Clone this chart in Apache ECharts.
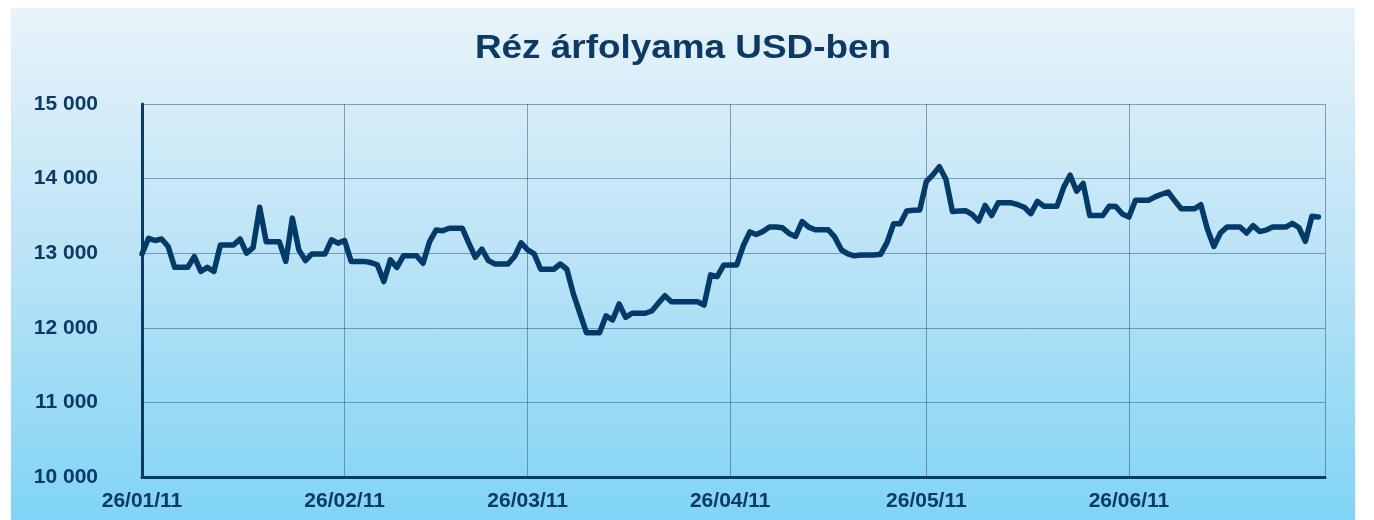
<!DOCTYPE html>
<html>
<head>
<meta charset="utf-8">
<title>Réz árfolyama USD-ben</title>
<script src="https://cdn.jsdelivr.net/npm/echarts@6/dist/echarts.min.js"></script>
<style>
  html, body { margin: 0; padding: 0; background: #fff; }
  #chart { width: 1374px; height: 520px; }
</style>
</head>
<body>
<div id="chart"></div>
<script>
// napi árfolyam (USD/t), a hétvégéken a pénteki érték ismétlődik
const sinceJan26 = [12990, 13200, 13170, 13190, 13090, 12810, 12810, 12810, 12955, 12755,
  12810, 12755, 13110, 13110, 13110, 13190, 13000, 13075, 13615, 13155,
  13155, 13155, 12890, 13470, 13045, 12900, 12990, 12990, 12990, 13180, 13135];
const sinceFeb26 = [13170, 12890, 12890, 12890, 12875, 12845, 12620, 12910, 12810, 12965,
  12965, 12965, 12865, 13155, 13310, 13300, 13335, 13335, 13335, 13135,
  12945, 13055, 12900, 12855, 12855, 12855, 12955, 13140];
const sinceMar26 = [13045, 12990, 12785, 12785, 12785, 12855, 12785, 12455, 12195, 11935,
  11935, 11935, 12160, 12105, 12320, 12140, 12195, 12195, 12195, 12225,
  12330, 12430, 12350, 12350, 12350, 12350, 12350, 12305, 12710, 12685, 12840];
const sinceApr26 = [12843, 12843, 13100, 13285, 13250, 13290, 13350, 13350, 13340, 13265,
  13225, 13425, 13350, 13315, 13315, 13315, 13215, 13045, 12990, 12965,
  12975, 12975, 12975, 12985, 13145, 13395, 13395, 13565, 13575, 13580];
const sinceMay26 = [13960, 14050, 14160, 13990, 13560, 13565, 13570, 13520, 13430, 13640,
  13505, 13675, 13675, 13675, 13650, 13615, 13530, 13695, 13630, 13630,
  13630, 13880, 14045, 13830, 13935, 13505, 13505, 13505, 13630, 13625, 13525];
const sinceJun26 = [13485, 13710, 13710, 13710, 13755, 13790, 13820, 13705, 13595, 13595,
  13595, 13650, 13325, 13090, 13270, 13350, 13350, 13350, 13270, 13370,
  13290, 13310, 13350, 13350, 13350, 13400, 13345, 13160, 13495, 13485];

const prices = [].concat(sinceJan26, sinceFeb26, sinceMar26, sinceApr26, sinceMay26, sinceJun26);

// napok 2011.01.26-tól 2011.07.26-ig
const startDay = Date.UTC(2011, 0, 26);
const dayCount = 182;
const pad = n => (n < 10 ? '0' : '') + n;
const days = [];
for (let i = 0; i < dayCount; i++) {
  const d = new Date(startDay + i * 86400000);
  days.push(pad(d.getUTCDate()) + '/' + pad(d.getUTCMonth() + 1) + '/' + String(d.getUTCFullYear()).slice(2));
}

const yMin = 10000;
const yMax = 15000;
const yStep = 1000;

const chartTitle = 'Réz árfolyama USD-ben';
const navy = '#0b3a66';
const font = 'Liberation Sans, Arial, sans-serif';
const fmtThousands = v => String(v).replace(/\B(?=(\d{3})+(?!\d))/g, ' ');
const isTickDay = (idx, val) => val.slice(0, 3) === '26/';

const chart = echarts.init(document.getElementById('chart'));

const option = {
  animation: false,
  backgroundColor: '#ffffff',
  textStyle: { fontFamily: font },
  graphic: [{
    type: 'rect',
    z: -10,
    silent: true,
    shape: { x: 11, y: 8, width: 1344, height: 512 },
    style: {
      fill: new echarts.graphic.LinearGradient(0, 0, 0, 1, [
        { offset: 0, color: '#e8f3f9' },
        { offset: 0.5, color: '#b9e3f6' },
        { offset: 1, color: '#80d4f5' }
      ])
    }
  }, {
    // a cím az eredetin kissé szélesre nyújtott
    type: 'text',
    silent: true,
    x: 683,
    y: 33,
    scaleX: 1.19,
    scaleY: 1.05,
    style: {
      text: chartTitle,
      align: 'center',
      verticalAlign: 'top',
      fill: navy,
      font: 'bold 31px ' + font
    }
  }],
  grid: {
    left: 142,
    right: 49,
    top: 104,
    bottom: 43,
    containLabel: false
  },
  xAxis: {
    type: 'category',
    data: days,
    boundaryGap: false,
    axisLine: { show: true, onZero: false, lineStyle: { color: navy, width: 3 } },
    axisTick: { show: false },
    axisLabel: {
      interval: (idx, val) => isTickDay(idx, val) && idx < dayCount - 1,
      color: navy,
      fontSize: 21,
      fontWeight: 'bold',
      margin: 14
    },
    splitLine: {
      show: true,
      interval: isTickDay,
      lineStyle: { color: 'rgba(40, 80, 120, 0.5)', width: 1 }
    }
  },
  yAxis: {
    type: 'value',
    min: yMin,
    max: yMax,
    interval: yStep,
    axisLine: { show: true, lineStyle: { color: navy, width: 3 } },
    axisTick: { show: false },
    axisLabel: {
      color: navy,
      fontSize: 21,
      fontWeight: 'bold',
      margin: 44,
      formatter: fmtThousands
    },
    splitLine: {
      show: true,
      lineStyle: { color: 'rgba(40, 80, 120, 0.5)', width: 1 }
    }
  },
  series: [{
    name: 'Réz',
    type: 'line',
    data: prices,
    showSymbol: false,
    symbol: 'none',
    lineStyle: { color: '#023a6a', width: 5.5, join: 'round', cap: 'round' },
    z: 5
  }]
};

chart.setOption(option);
window.addEventListener('resize', () => chart.resize());
</script>
</body>
</html>
